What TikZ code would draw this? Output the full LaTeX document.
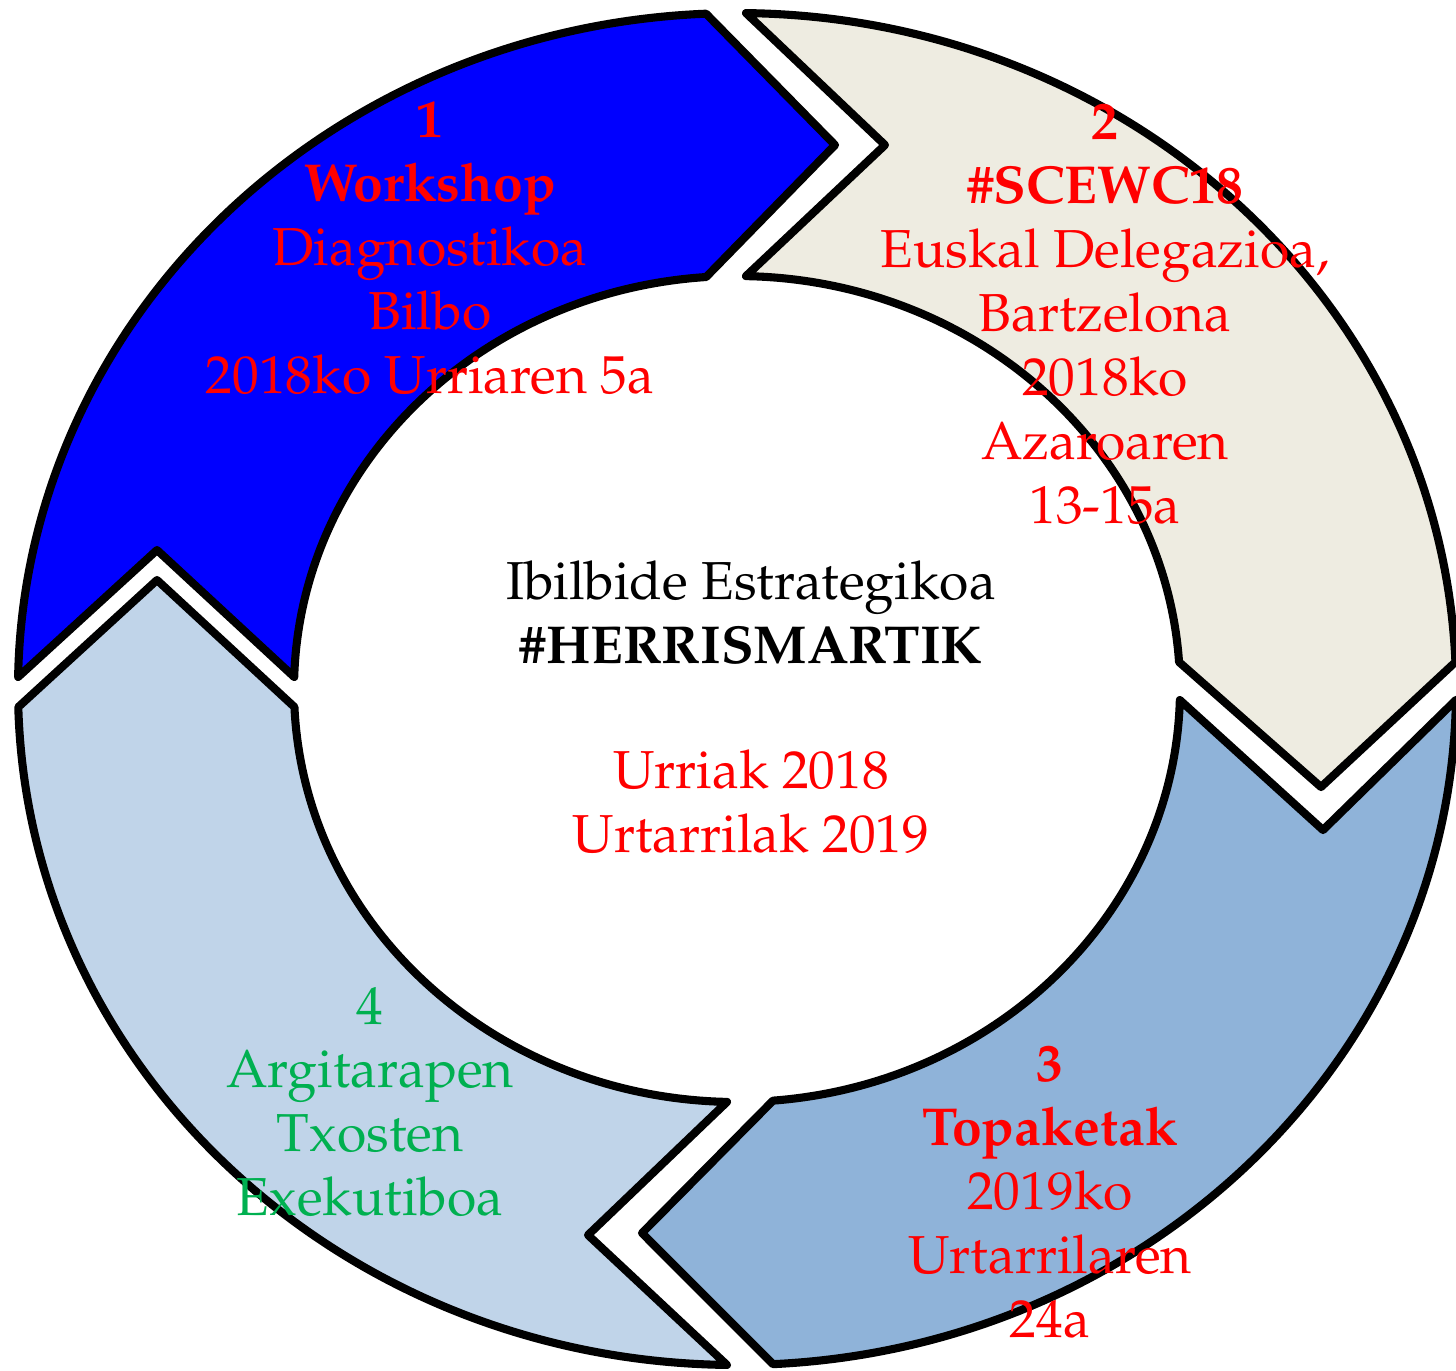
\documentclass[tikz,border=0pt]{standalone}
\usepackage[T1]{fontenc}
\usepackage{mathpazo}
\usepackage{tikz}
\usetikzlibrary{calc}
\definecolor{tanbg}{RGB}{238,236,225}
\definecolor{midblue}{RGB}{143,179,217}
\definecolor{paleblue}{RGB}{192,212,233}
\definecolor{txtgreen}{RGB}{0,176,80}
\tikzstyle{phase}=[draw=black,line width=2.3pt,line join=round]
\tikzstyle{phase1}=[phase,fill=blue]
\tikzstyle{phase2}=[phase,fill=tanbg]
\tikzstyle{phase3}=[phase,fill=midblue]
\tikzstyle{phase4}=[phase,fill=paleblue]
\tikzstyle{redLabel}=[text=red,align=center,inner sep=0pt,font=\fontsize{15.2}{18.2}\selectfont]
\tikzstyle{greenLabel}=[redLabel,text=txtgreen]
\tikzstyle{midLabel}=[redLabel,text=black]

\begin{document}
\begin{tikzpicture}
	\useasboundingbox (0,0) rectangle (14.56,-13.70);
	\coordinate (c) at (7.37,-6.89);

	\draw [phase1] ($(c)+(178.98:7.19 and 6.76)$) -- (1.57,-5.50) -- ($(c)+(178.33:4.43 and 4.13)$)
		arc[start angle=178.33, end angle=94.0, x radius=4.43, y radius=4.13] -- (8.35,-1.45)
		-- ($(c)+(92.47:7.19 and 6.76)$) arc[start angle=92.47, end angle=178.98, x radius=7.19, y radius=6.76] -- cycle;
	\draw [phase2] ($(c)+(89.28:7.19 and 6.76)$) -- (8.85,-1.45) -- ($(c)+(88.84:4.43 and 4.13)$)
		arc[start angle=88.84, end angle=3.75, x radius=4.43, y radius=4.13] -- (13.21,-7.87)
		-- ($(c)+(2.29:7.19 and 6.76)$) arc[start angle=2.29, end angle=89.28, x radius=7.19, y radius=6.76] -- cycle;
	\draw [phase3] ($(c)+(-0.93:7.19 and 6.76)$) -- (13.23,-8.30) -- ($(c)+(-1.53:4.43 and 4.13)$)
		arc[start angle=-1.53, end angle=-85.34, x radius=4.43, y radius=4.13] -- (6.42,-12.33)
		-- ($(c)+(-87.13:7.19 and 6.76)$) arc[start angle=-87.13, end angle=-0.93, x radius=7.19, y radius=6.76] -- cycle;
	\draw [phase4] ($(c)+(-90.80:7.19 and 6.76)$) -- (5.88,-12.35) -- ($(c)+(-91.29:4.43 and 4.13)$)
		arc[start angle=-91.29, end angle=-177.5, x radius=4.43, y radius=4.13] -- (1.57,-5.80)
		-- ($(c)+(-178.47:7.19 and 6.76)$) arc[start angle=-178.47, end angle=-90.80, x radius=7.19, y radius=6.76] -- cycle;

	\node at (4.30,-2.48) [redLabel] (t1) {\textbf{1}\\\textbf{Workshop}\\Diagnostikoa\\Bilbo\\2018ko Urriaren 5a};
	\node at (11.05,-3.14) [redLabel] (t2) {\textbf{2}\\\textbf{\#SCEWC18}\\Euskal Delegazioa,\\Bartzelona\\2018ko\\Azaroaren\\13-15a};
	\node at (10.50,-11.92) [redLabel] (t3) {\textbf{3}\\\textbf{Topaketak}\\2019ko\\Urtarrilaren\\24a};
	\node at (3.70,-11.02) [greenLabel] (t4) {4\\Argitarapen\\Txosten\\Exekutiboa};
	\node at (7.51,-6.12) [midLabel] (title) {Ibilbide Estrategikoa\\\textbf{\#HERRISMARTIK}};
	\node at (7.51,-8.02) [redLabel] (dates) {Urriak 2018\\Urtarrilak 2019};
\end{tikzpicture}
\end{document}
